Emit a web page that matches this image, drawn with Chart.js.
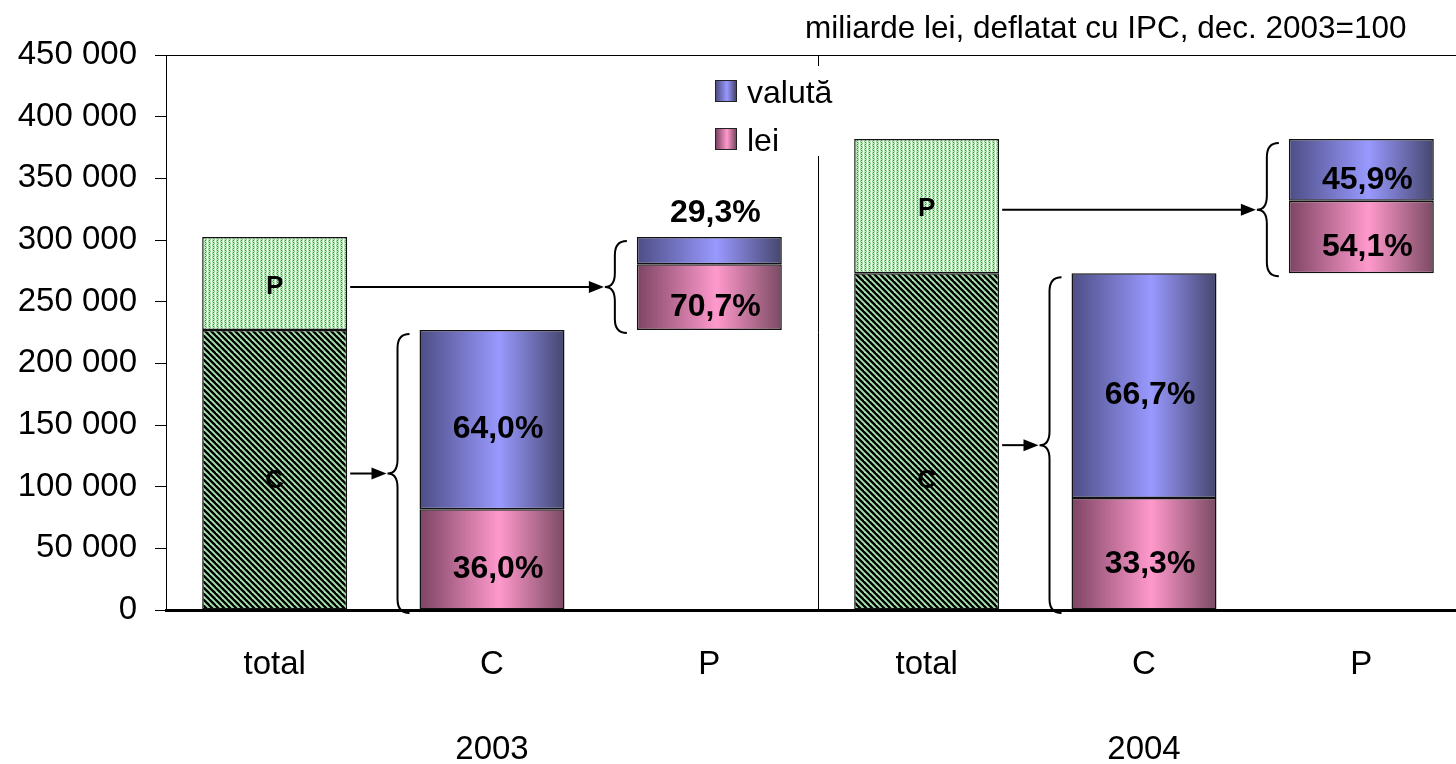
<!DOCTYPE html>
<html lang="ro">
<head>
  <meta charset="UTF-8" />
  <title>Credite C / P, lei si valuta</title>
  <script src="https://cdn.jsdelivr.net/npm/chart.js"></script>
  <style>
    body { margin: 0; background: #fff; font-family: "Liberation Sans", Arial, sans-serif; }
    .wrap { position: relative; width: 1456px; height: 764px; overflow: hidden; }
    .inner { position: absolute; left: 0; top: 0; width: 1470px; height: 764px; }
    .unit { position: absolute; top: 9px; left: 805px; font-size: 31.5px; white-space: nowrap; }
    .legend { position: absolute; left: 706px; top: 66px; width: 142px; height: 90px; background: #fff; }
    .legend div { position: absolute; left: 9px; font-size: 32px; line-height: 32px; }
    .legend span { display: inline-block; width: 20px; height: 20px; border: 1px solid #222; margin-right: 10px; vertical-align: 1px; }
    .sw-val { background: linear-gradient(to right, #4d4d85, #9999ff 55%, #46466e); }
    .sw-lei { background: linear-gradient(to right, #7d4463, #ff99cc 55%, #7a4a62); }
  </style>
</head>
<body>
  <div class="wrap">
    <div class="inner"><canvas id="creditChart"></canvas></div>
    <div class="unit">miliarde lei, deflatat cu IPC, dec. 2003=100</div>
    <div class="legend">
      <div style="top:10px"><span class="sw-val"></span>valută</div>
      <div style="top:58px"><span class="sw-lei"></span>lei</div>
    </div>
  </div>

  <script>
    // date
    const categories = ["total", "C", "P", "total", "C", "P"];
    const years = ["2003", "2004"];
    const totalC = [227000, 273000];
    const totalP = [75500, 108900];
    const cLei = [81700, 90900];
    const cValuta = [145300, 182100];
    const pLei = [53400, 58900];
    const pValuta = [22100, 50000];
    const cLeiPct = ["36,0%", "33,3%"];
    const cValutaPct = ["64,0%", "66,7%"];
    const pLeiPct = ["70,7%", "54,1%"];
    const pValutaPct = ["29,3%", "45,9%"];
    const yTicks = { min: 0, max: 450000, step: 50000 };

    const barPct = 0.667;

    // intervalele barelor (bare "plutitoare")
    const rowsC = [], rowsP = [], rowsLei = [], rowsVal = [];
    years.forEach((y, i) => {
      rowsC.push([0, totalC[i]], null, null);
      rowsP.push([totalC[i], totalC[i] + totalP[i]], null, null);
      rowsLei.push(null, [0, cLei[i]], [totalC[i], totalC[i] + pLei[i]]);
      rowsVal.push(null, [cLei[i], cLei[i] + cValuta[i]], [totalC[i] + pLei[i], totalC[i] + pLei[i] + pValuta[i]]);
    });

    function makeHatch() {
      const c = document.createElement("canvas");
      c.width = 6; c.height = 6;
      const g = c.getContext("2d");
      g.fillStyle = "#a8e6b0";
      g.fillRect(0, 0, 6, 6);
      g.strokeStyle = "#000";
      g.lineWidth = 2.4;
      [-6, 0, 6].forEach(k => {
        g.beginPath(); g.moveTo(k - 1, -1); g.lineTo(k + 7, 7); g.stroke();
      });
      return g.createPattern(c, "repeat");
    }

    function makeDots() {
      const c = document.createElement("canvas");
      c.width = 4; c.height = 4;
      const g = c.getContext("2d");
      g.fillStyle = "#c4eac4";
      g.fillRect(0, 0, 4, 4);
      g.fillStyle = "#ffffff";
      g.fillRect(3, 0, 1, 4);
      g.fillStyle = "#229a32";
      g.fillRect(1, 0, 1, 1);
      g.fillRect(1, 2, 1, 1);
      g.fillStyle = "#7ccc80";
      g.fillRect(0, 1, 1, 1);
      g.fillRect(2, 3, 1, 1);
      return g.createPattern(c, "repeat");
    }

    function barGradient(dark1, light, dark2) {
      return (c) => {
        const chart = c.chart;
        if (!chart.chartArea || c.dataIndex === undefined) return light;
        const xs = chart.scales.x;
        const cx = xs.getPixelForValue(c.dataIndex);
        const hw = xs.width / categories.length * barPct / 2;
        const g = chart.ctx.createLinearGradient(cx - hw, 0, cx + hw, 0);
        g.addColorStop(0, dark1);
        g.addColorStop(0.55, light);
        g.addColorStop(1, dark2);
        return g;
      };
    }

    function brace(ctx, tx, top, bottom) {
      const mid = (top + bottom) / 2;
      ctx.beginPath();
      ctx.moveTo(tx + 22, top);
      ctx.quadraticCurveTo(tx + 10, top, tx + 10, top + 14);
      ctx.lineTo(tx + 10, mid - 14);
      ctx.quadraticCurveTo(tx + 10, mid, tx, mid);
      ctx.quadraticCurveTo(tx + 10, mid, tx + 10, mid + 14);
      ctx.lineTo(tx + 10, bottom - 14);
      ctx.quadraticCurveTo(tx + 10, bottom, tx + 22, bottom);
      ctx.stroke();
    }

    function arrow(ctx, x1, x2, y) {
      ctx.beginPath();
      ctx.moveTo(x1, y);
      ctx.lineTo(x2 - 12, y);
      ctx.stroke();
      ctx.beginPath();
      ctx.moveTo(x2, y);
      ctx.lineTo(x2 - 15, y - 6);
      ctx.lineTo(x2 - 15, y + 6);
      ctx.closePath();
      ctx.fill();
    }

    const annotate = {
      id: "annotate",
      beforeDatasetsDraw(chart) {
        const { ctx, chartArea: a, scales: { x } } = chart;
        ctx.save();
        ctx.strokeStyle = "#000";
        ctx.lineWidth = 1;
        ctx.beginPath();
        ctx.moveTo(a.left, a.top + 0.5);
        ctx.lineTo(a.right, a.top + 0.5);
        ctx.stroke();
        const sx = Math.round((x.getPixelForValue(2) + x.getPixelForValue(3)) / 2) + 0.5;
        ctx.beginPath();
        ctx.moveTo(sx, a.top);
        ctx.lineTo(sx, a.bottom);
        ctx.stroke();
        ctx.restore();
      },
      afterDatasetsDraw(chart) {
        const { ctx, scales: { x, y } } = chart;
        const metaC = chart.getDatasetMeta(0);
        const metaLei = chart.getDatasetMeta(2);
        ctx.save();
        ctx.fillStyle = "#000";
        ctx.strokeStyle = "#000";
        ctx.textAlign = "center";
        ctx.textBaseline = "middle";

        years.forEach((yr, i) => {
          const tIdx = 3 * i, cIdx = 3 * i + 1, pIdx = 3 * i + 2;
          const tBar = metaC.data[tIdx];
          const tRight = tBar.x + tBar.width / 2;

          // P si C in bara total
          ctx.font = "bold 26px 'Liberation Sans', Arial, sans-serif";
          ctx.fillText("P", tBar.x, y.getPixelForValue(totalC[i] + totalP[i] / 2) + 3);
          ctx.fillText("C", tBar.x, y.getPixelForValue(105000));

          // acolade + sageti
          ctx.lineWidth = 2;
          [[cIdx, 0, totalC[i]], [pIdx, totalC[i], totalC[i] + totalP[i]]].forEach(([idx, lo, hi]) => {
            const bar = metaLei.data[idx];
            const left = bar.x - bar.width / 2;
            const top = y.getPixelForValue(hi) + 4;
            const bottom = y.getPixelForValue(lo) + 3;
            const tx = left - 32;
            brace(ctx, tx, top, bottom);
            arrow(ctx, tRight + 3, tx - 1, (top + bottom) / 2);
          });

          // procente
          ctx.font = "bold 32px 'Liberation Sans', Arial, sans-serif";
          const segs = [
            [cIdx, 0, cLei[i], cLeiPct[i]],
            [cIdx, cLei[i], totalC[i], cValutaPct[i]],
            [pIdx, totalC[i], totalC[i] + pLei[i], pLeiPct[i]],
            [pIdx, totalC[i] + pLei[i], totalC[i] + totalP[i], pValutaPct[i]]
          ];
          segs.forEach(([idx, lo, hi, txt]) => {
            const px = x.getPixelForValue(idx) + 6;
            const yt = y.getPixelForValue(hi), yb = y.getPixelForValue(lo);
            if (yb - yt < 40) {
              ctx.fillText(txt, px, yt - 24);
            } else {
              ctx.fillText(txt, px, (yt + yb) / 2 + 10);
            }
          });

          // anii
          ctx.font = "33px 'Liberation Sans', Arial, sans-serif";
          ctx.fillText(yr, x.getPixelForValue(cIdx), 750);
        });
        ctx.restore();
      }
    };

    Chart.defaults.font.family = "'Liberation Sans', Arial, sans-serif";
    Chart.defaults.color = "#000";

    const ctx = document.getElementById("creditChart").getContext("2d");
    const common = { borderColor: "#111", borderWidth: 1.5, borderSkipped: false, barPercentage: barPct, categoryPercentage: 1 };

    new Chart(ctx, {
      type: "bar",
      data: {
        labels: categories,
        datasets: [
          { label: "C", data: rowsC, backgroundColor: makeHatch(), ...common },
          { label: "P", data: rowsP, backgroundColor: makeDots(), ...common },
          { label: "lei", data: rowsLei, backgroundColor: barGradient("#7d4463", "#ff99cc", "#7a4a62"), ...common },
          { label: "valută", data: rowsVal, backgroundColor: barGradient("#4d4d85", "#9999ff", "#46466e"), ...common }
        ]
      },
      options: {
        responsive: true,
        maintainAspectRatio: false,
        animation: false,
        layout: { padding: { top: 55, left: 0, right: 0, bottom: 0 } },
        plugins: { legend: { display: false }, tooltip: { enabled: false } },
        scales: {
          x: {
            stacked: true,
            grid: { display: false },
            border: { display: true, color: "#000", width: 3 },
            ticks: { font: { size: 33 }, padding: 27, maxRotation: 0 },
            afterFit: (s) => { s.height = 154; }
          },
          y: {
            stacked: false,
            min: yTicks.min,
            max: yTicks.max,
            grid: { drawOnChartArea: false, drawTicks: true, tickLength: 11, color: "#000" },
            border: { display: true, color: "#000", width: 1 },
            ticks: {
              stepSize: yTicks.step,
              font: { size: 33 },
              padding: 18,
              callback: (v) => String(v).replace(/\B(?=(\d{3})+(?!\d))/g, " ")
            },
            afterFit: (s) => { s.width = 166; }
          }
        }
      },
      plugins: [annotate]
    });
  </script>
</body>
</html>
